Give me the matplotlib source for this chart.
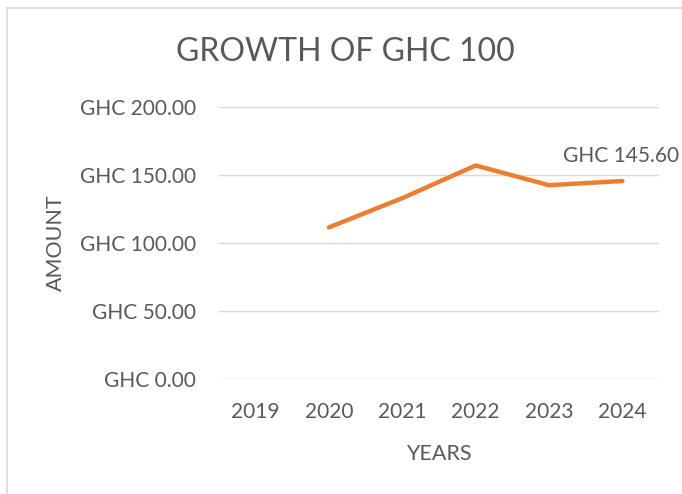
import matplotlib
matplotlib.use("Agg")
import matplotlib.pyplot as plt
from matplotlib.lines import Line2D

# data
years = ["2019", "2020", "2021", "2022", "2023", "2024"]
amounts = [None, 111.5, 133.0, 157.0, 142.5, 145.6]
y_ticks = [0, 50, 100, 150, 200]

TEXT = "#595959"
ORANGE = "#ED7D31"
GRID = "#D9D9D9"

plt.rcParams['font.family'] = ['Lato', 'DejaVu Sans']

W, H = 682, 494
fig = plt.figure(figsize=(W / 100, H / 100), dpi=100)

# chart area border (only top/left visible in the crop)
fig.add_artist(Line2D([7 / W, 7 / W], [0, 1 - 8 / H], color="#D9D9D9", lw=1.2))
fig.add_artist(Line2D([7 / W, 1], [1 - 8 / H, 1 - 8 / H], color="#D9D9D9", lw=1.2))

left, right = 219 / W, 659 / W
bottom, top = 1 - 379 / H, 1 - 107 / H
ax = fig.add_axes([left, bottom, right - left, top - bottom])

xs = list(range(len(years)))
px = [x for x, v in zip(xs, amounts) if v is not None]
py = [v for v in amounts if v is not None]
ax.plot(px, py, color=ORANGE, lw=3.2, solid_capstyle="round", solid_joinstyle="round")

ax.annotate("GHC %.2f" % py[-1], (px[-1], py[-1]), xytext=(-1, 11), textcoords="offset points",
            ha="center", va="bottom", fontsize=15, color=TEXT)

ax.set_xlim(-0.5, len(years) - 0.5)
ax.set_ylim(0, 200)
ax.set_yticks(y_ticks)
ax.set_yticklabels(["GHC %.2f" % v for v in y_ticks], fontsize=15, color=TEXT)
ax.set_xticks(xs)
ax.set_xticklabels(years, fontsize=15, color=TEXT)
ax.tick_params(length=0)
ax.tick_params(axis="y", pad=16.5)
ax.tick_params(axis="x", pad=16.5)
ax.grid(axis="y", color=GRID, lw=1)
ax.set_axisbelow(True)
for s in ax.spines.values():
    s.set_visible(False)

ax.set_ylabel("AMOUNT", fontsize=15.5, color=TEXT, labelpad=10)
ax.set_xlabel("YEARS", fontsize=15.5, color=TEXT, labelpad=16)

fig.text(345 / W, 1 - 52 / H, "GROWTH OF GHC 100", ha="center", va="center", fontsize=23, color=TEXT)

fig.savefig("out.png", dpi=100)
